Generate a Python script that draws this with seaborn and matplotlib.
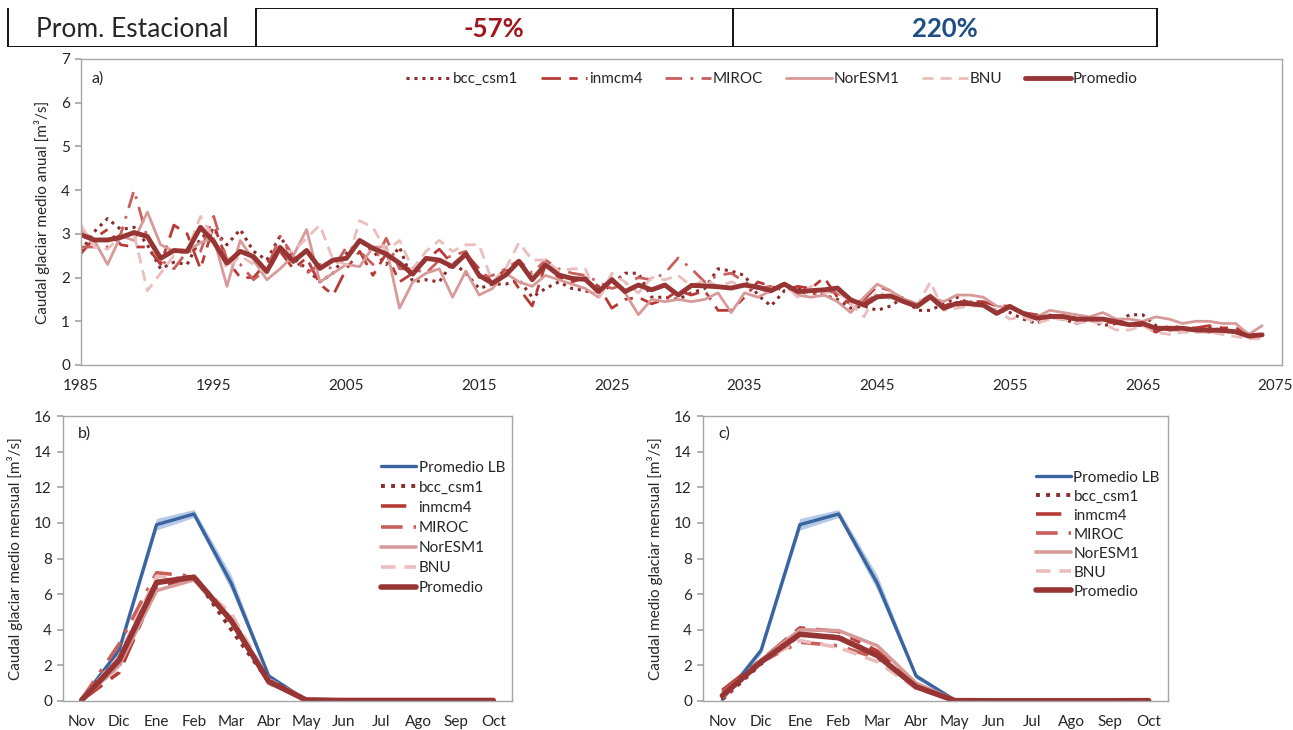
import numpy as np
import pandas as pd
import matplotlib
matplotlib.use('Agg')
import matplotlib.pyplot as plt
import seaborn as sns

# ---- data ---------------------------------------------------------------
years = list(range(1985, 2075))

bcc_csm1 = [2.60, 3.05, 3.35, 3.10, 3.15, 2.75, 2.20, 2.35, 2.30, 2.90,
            3.10, 2.75, 3.10, 2.60, 2.40, 2.95, 2.45, 2.20, 1.90, 2.10,
            2.55, 2.85, 2.60, 2.30, 2.70, 1.90, 1.95, 1.90, 2.35, 2.10,
            1.75, 1.85, 1.85, 1.95, 1.55, 1.75, 1.90, 1.75, 1.70, 1.60,
            1.85, 2.10, 2.10, 1.55, 1.55, 1.50, 1.65, 1.75, 2.20, 2.15,
            2.05, 1.60, 1.35, 1.70, 1.75, 1.65, 1.60, 1.50, 1.30, 1.35,
            1.25, 1.35, 1.55, 1.25, 1.25, 1.40, 1.55, 1.40, 1.35, 1.25,
            1.20, 1.05, 0.95, 1.10, 1.05, 0.95, 1.05, 0.90, 0.95, 1.15,
            1.15, 0.90, 0.80, 0.85, 0.80, 0.85, 0.80, 0.75, 0.70, 0.70]
inmcm4 = [2.55, 2.90, 3.10, 2.75, 2.70, 2.70, 2.30, 3.20, 3.00, 2.20,
          3.20, 2.40, 2.00, 2.00, 2.35, 2.60, 2.20, 2.45, 1.85, 1.60,
          2.20, 2.60, 2.05, 2.55, 1.90, 2.10, 2.40, 2.65, 2.30, 2.55,
          2.20, 1.90, 2.20, 1.75, 1.35, 2.30, 2.00, 1.90, 2.00, 1.80,
          1.30, 1.50, 1.55, 1.40, 1.50, 1.70, 1.60, 1.70, 1.25, 1.25,
          1.55, 1.90, 1.80, 1.70, 1.80, 1.75, 2.00, 1.55, 1.40, 1.50,
          1.80, 1.70, 1.50, 1.40, 1.60, 1.35, 1.45, 1.45, 1.45, 1.35,
          1.35, 1.20, 1.15, 1.10, 1.10, 1.05, 1.05, 1.00, 0.95, 0.90,
          0.90, 0.75, 0.90, 0.85, 0.85, 0.90, 0.85, 0.85, 0.70, 0.70]
miroc = [2.70, 2.70, 2.70, 3.00, 4.00, 2.90, 2.40, 2.20, 2.60, 2.60,
         3.40, 2.40, 2.30, 1.95, 2.20, 2.95, 2.50, 2.10, 2.30, 2.20,
         2.70, 2.60, 2.30, 2.90, 2.20, 2.20, 2.10, 2.40, 2.50, 2.60,
         2.00, 2.05, 2.20, 2.40, 2.10, 2.40, 2.20, 2.10, 2.05, 1.90,
         1.75, 1.85, 2.00, 1.95, 2.10, 2.45, 2.20, 1.90, 2.05, 2.10,
         1.90, 1.75, 1.80, 1.85, 1.70, 1.60, 1.70, 1.65, 1.45, 1.45,
         1.60, 1.55, 1.50, 1.40, 1.60, 1.35, 1.35, 1.45, 1.35, 1.20,
         1.30, 1.20, 1.10, 1.15, 1.05, 1.10, 1.00, 1.05, 1.00, 0.90,
         1.00, 0.85, 0.80, 0.80, 0.80, 0.75, 0.80, 0.75, 0.65, 0.70]
noresm1 = [3.10, 2.85, 2.30, 2.95, 2.85, 3.50, 2.75, 2.60, 2.60, 2.80,
           2.90, 1.80, 2.85, 2.40, 1.95, 2.20, 2.50, 3.10, 1.90, 2.10,
           2.30, 2.25, 2.70, 2.70, 1.30, 1.90, 2.10, 2.20, 1.55, 2.15,
           1.60, 1.75, 2.10, 1.90, 1.80, 2.05, 1.95, 1.85, 1.75, 1.55,
           2.00, 1.65, 1.15, 1.50, 1.45, 1.50, 1.45, 1.50, 1.65, 1.20,
           1.65, 1.55, 1.70, 1.85, 1.60, 1.55, 1.60, 1.45, 1.20, 1.55,
           1.85, 1.70, 1.50, 1.40, 1.55, 1.45, 1.60, 1.60, 1.55, 1.35,
           1.30, 1.20, 1.10, 1.25, 1.20, 1.15, 1.10, 1.20, 1.05, 1.05,
           1.00, 1.10, 1.05, 0.95, 1.00, 1.00, 0.95, 0.95, 0.70, 0.90]
bnu = [3.20, 2.70, 2.65, 2.95, 3.00, 1.70, 2.10, 2.50, 2.60, 3.40,
       2.90, 2.20, 2.50, 2.30, 2.10, 2.60, 2.60, 2.90, 3.20, 2.40,
       2.30, 3.30, 3.15, 2.60, 2.85, 2.20, 2.60, 2.85, 2.60, 2.75,
       2.75, 1.90, 2.20, 2.80, 2.40, 2.40, 2.15, 2.20, 2.20, 1.50,
       2.10, 1.90, 1.65, 2.00, 1.95, 2.05, 1.80, 1.95, 1.80, 1.90,
       1.80, 1.75, 1.65, 1.85, 1.55, 1.80, 1.65, 1.70, 1.40, 1.10,
       1.70, 1.50, 1.45, 1.35, 1.90, 1.25, 1.30, 1.35, 1.35, 1.25,
       1.05, 1.10, 0.95, 1.05, 1.05, 0.95, 1.00, 0.95, 0.80, 0.80,
       0.90, 0.75, 0.70, 0.75, 0.75, 0.75, 0.70, 0.65, 0.60, 0.60]
promedio = [2.98, 2.86, 2.86, 2.92, 3.03, 2.94, 2.44, 2.62, 2.60, 3.15,
            2.82, 2.33, 2.60, 2.48, 2.14, 2.69, 2.37, 2.62, 2.21, 2.40,
            2.44, 2.85, 2.67, 2.54, 2.33, 2.08, 2.44, 2.40, 2.25, 2.54,
            2.05, 1.87, 2.06, 2.37, 1.95, 2.29, 2.06, 1.98, 1.96, 1.68,
            1.95, 1.68, 1.83, 1.72, 1.83, 1.60, 1.82, 1.81, 1.79, 1.76,
            1.83, 1.78, 1.70, 1.85, 1.68, 1.70, 1.72, 1.76, 1.49, 1.37,
            1.56, 1.58, 1.45, 1.34, 1.56, 1.30, 1.41, 1.40, 1.37, 1.18,
            1.34, 1.18, 1.07, 1.11, 1.11, 1.05, 1.05, 1.05, 0.99, 0.92,
            0.95, 0.84, 0.84, 0.84, 0.80, 0.80, 0.79, 0.76, 0.66, 0.69]

months = ['Nov', 'Dic', 'Ene', 'Feb', 'Mar', 'Abr', 'May', 'Jun', 'Jul', 'Ago', 'Sep', 'Oct']
lb_mean = [0.10, 2.85, 9.90, 10.50, 6.60, 1.40, 0.05, 0, 0, 0, 0, 0]
lb_low = [0.05, 2.65, 9.60, 10.30, 6.20, 1.25, 0.02, 0, 0, 0, 0, 0]
lb_high = [0.15, 3.05, 10.25, 10.75, 7.05, 1.55, 0.08, 0, 0, 0, 0, 0]

b_bcc = [0.10, 2.00, 6.70, 7.00, 4.00, 1.10, 0.05, 0.02, 0.02, 0.02, 0.02, 0.02]
b_inm = [0.05, 1.60, 6.40, 6.90, 4.70, 1.00, 0.10, 0.05, 0.05, 0.05, 0.05, 0.05]
b_miroc = [0.10, 3.20, 7.20, 7.00, 4.60, 1.20, 0.10, 0.05, 0.05, 0.05, 0.05, 0.05]
b_nor = [0.05, 2.00, 6.20, 6.80, 4.60, 1.00, 0.10, 0.05, 0.05, 0.05, 0.05, 0.05]
b_bnu = [0.10, 2.50, 7.00, 6.80, 4.90, 1.20, 0.10, 0.05, 0.05, 0.05, 0.05, 0.05]
b_prom = [0.05, 2.30, 6.65, 6.95, 4.50, 1.10, 0.05, 0.03, 0.03, 0.03, 0.03, 0.03]

c_bcc = [0.10, 2.10, 3.70, 3.60, 2.60, 0.80, 0.02, 0.01, 0.01, 0.01, 0.01, 0.01]
c_inm = [0.60, 2.30, 4.10, 3.90, 2.80, 0.90, 0.05, 0.02, 0.02, 0.02, 0.02, 0.05]
c_miroc = [0.50, 2.20, 3.30, 3.10, 2.40, 0.80, 0.05, 0.02, 0.02, 0.02, 0.02, 0.08]
c_nor = [0.30, 2.30, 4.00, 3.95, 3.10, 1.00, 0.05, 0.02, 0.02, 0.02, 0.02, 0.02]
c_bnu = [0.20, 2.20, 3.40, 3.00, 2.20, 0.70, 0.05, 0.02, 0.02, 0.02, 0.02, 0.02]
c_prom = [0.30, 2.20, 3.75, 3.55, 2.55, 0.80, 0.02, 0.01, 0.01, 0.01, 0.01, 0.02]

# ---- styles -------------------------------------------------------------
STYLES = {
    'bcc_csm1': dict(color='#8B2B2B', ls=(0, (1, 1.6)), lw=2.2),
    'inmcm4':   dict(color='#B83A36', ls=(0, (7, 3, 3, 3)), lw=2.0),
    'MIROC':    dict(color='#C9605C', ls=(0, (6, 3, 1, 3)), lw=2.0),
    'NorESM1':  dict(color='#D89A98', ls='-', lw=2.0),
    'BNU':      dict(color='#EBBDBC', ls=(0, (4, 2.5)), lw=2.0),
    'Promedio': dict(color='#973434', ls='-', lw=3.5),
}
GRAY = '#a6a6a6'
FONT = ['Lato', 'DejaVu Sans']

sns.set_theme(style='white')
plt.rcParams['font.family'] = FONT

fig = plt.figure(figsize=(12.93, 7.30), dpi=100)


def style_axes(ax, xpad):
    for s in ax.spines.values():
        s.set_color(GRAY)
        s.set_linewidth(1.0)
    ax.tick_params(axis='y', which='both', left=True, length=4, color=GRAY, labelsize=11, pad=4)
    ax.tick_params(axis='x', which='both', bottom=False, length=0, labelsize=11, pad=xpad)


# ---- header -------------------------------------------------------------
hx = fig.add_axes([0, 0.9356, 1, 0.0534])
hx.set_xlim(0, 1293)
hx.set_ylim(0, 1)
hx.axis('off')
hx.plot([8, 8], [-0.08, 1], color='black', lw=1.3)
hx.plot([8, 1157], [0, 0], color='black', lw=1.3)
hx.plot([256, 1157], [1, 1], color='black', lw=1.3)
for xv in (256, 733, 1157):
    hx.plot([xv, xv], [0, 1], color='black', lw=1.3)
hx.text(132, 0.45, 'Prom. Estacional', ha='center', va='center', fontsize=19)
hx.text(494, 0.45, '-57%', ha='center', va='center', fontsize=18.5, fontweight='bold',
        color='#A0171C')
hx.text(945, 0.45, '220%', ha='center', va='center', fontsize=18.5, fontweight='bold',
        color='#1F4E86')

# ---- panel a ------------------------------------------------------------
ax = fig.add_axes([81 / 1293, 0.5, 1201 / 1293, 306 / 730])
annual = {'bcc_csm1': bcc_csm1, 'inmcm4': inmcm4, 'MIROC': miroc,
          'NorESM1': noresm1, 'BNU': bnu, 'Promedio': promedio}
for name, vals in annual.items():
    st = STYLES[name]
    sns.lineplot(x=years, y=vals, ax=ax, color=st['color'], linestyle=st['ls'],
                 linewidth=st['lw'], label=name)
ax.set_xlim(1985, 2075.5)
ax.set_ylim(0, 7)
ax.set_xticks(range(1985, 2076, 10))
ax.set_yticks(range(0, 8))
ax.set_ylabel('Caudal glaciar medio anual [m³/s]', fontsize=11, labelpad=8)
style_axes(ax, 10)
ax.text(0.009, 0.935, 'a)', transform=ax.transAxes, fontsize=11.5, va='center')
ax.legend(ncol=6, loc='center', bbox_to_anchor=(0.575, 0.935), frameon=False,
          fontsize=11, handlelength=3.0, columnspacing=1.5, handletextpad=0.1)

# ---- panels b and c -----------------------------------------------------
panels = [
    ([63 / 1293, 29 / 730, 449 / 1293, 285 / 730], 'b)',
     'Caudal glaciar medio mensual [m³/s]',
     [b_bcc, b_inm, b_miroc, b_nor, b_bnu, b_prom], (0.695, 0.865), 0.4),
    ([703 / 1293, 29 / 730, 465 / 1293, 285 / 730], 'c)',
     'Caudal medio glaciar mensual [m³/s]',
     [c_bcc, c_inm, c_miroc, c_nor, c_bnu, c_prom], (0.703, 0.83), 0.33),
]
x_idx = np.arange(len(months))
for rect, tag, ylab, series, lpos, lspace in panels:
    bx = fig.add_axes(rect)
    bx.fill_between(x_idx, lb_low, lb_high, color='#9DB9DE', alpha=0.75, lw=0)
    sns.lineplot(x=x_idx, y=lb_mean, ax=bx, color='#3A64A0', linewidth=2.4, label='Promedio LB')
    for name, vals in zip(['bcc_csm1', 'inmcm4', 'MIROC', 'NorESM1', 'BNU', 'Promedio'], series):
        st = STYLES[name]
        sns.lineplot(x=x_idx, y=vals, ax=bx, color=st['color'], linestyle=st['ls'],
                     linewidth=st['lw'] + (0.6 if name != 'Promedio' else 0.5), label=name)
    bx.set_xlim(-0.5, 11.5)
    bx.set_ylim(0, 16)
    bx.set_xticks(x_idx)
    bx.set_xticklabels(months)
    bx.set_yticks(range(0, 17, 2))
    bx.set_ylabel(ylab, fontsize=11, labelpad=8)
    style_axes(bx, 10)
    bx.text(0.033, 0.94, tag, transform=bx.transAxes, fontsize=11.5, va='center')
    bx.legend(loc='upper left', bbox_to_anchor=lpos, frameon=False, fontsize=11,
              handlelength=2.3, handletextpad=0.15, labelspacing=lspace, borderaxespad=0)

fig.savefig('out.png', dpi=100)
